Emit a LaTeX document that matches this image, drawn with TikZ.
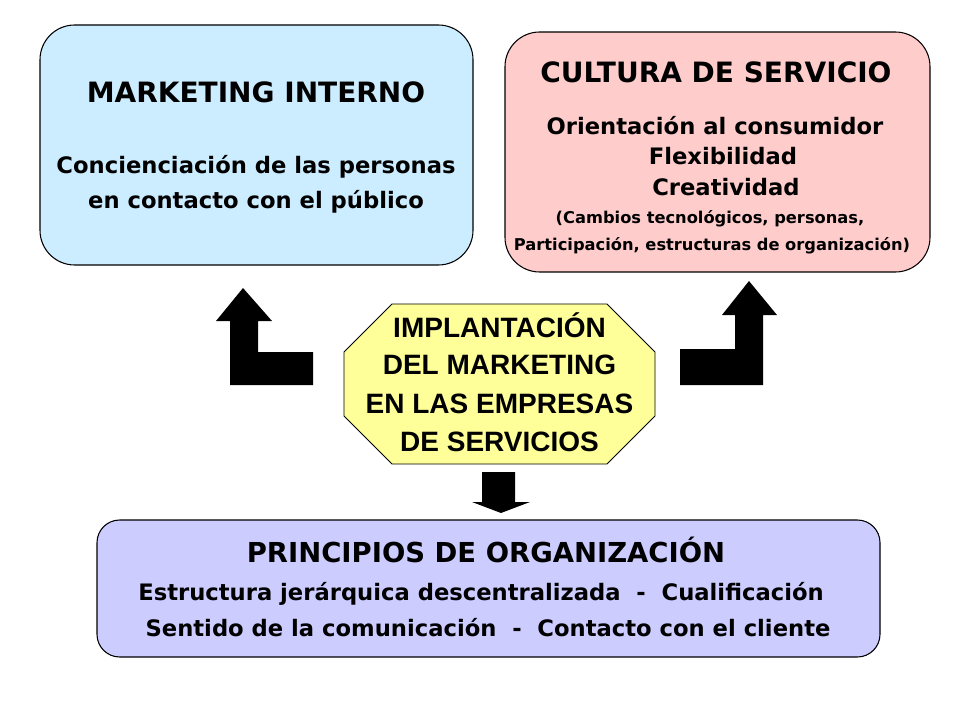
\documentclass[tikz,border=0pt]{standalone}
\usepackage{fontspec}
\setmainfont{DejaVu Sans}
\newfontfamily\octfamily{Liberation Sans}

\definecolor{internofill}{RGB}{204,236,255}
\definecolor{culturafill}{RGB}{255,204,204}
\definecolor{orgfill}{RGB}{204,204,255}
\definecolor{implfill}{RGB}{255,255,153}

\newcommand\boxtitle{\fontsize{21}{25}\selectfont\bfseries}
\newcommand\boxbody{\fontsize{17}{20}\selectfont\bfseries}
\newcommand\boxnote{\fontsize{12.2}{15}\selectfont\bfseries}
\newcommand\octtext{\octfamily\fontsize{21}{25}\selectfont\bfseries}
\newcommand\orgtitle{\fontsize{20.6}{24}\selectfont\bfseries}
\newcommand\orgbody{\fontsize{17}{20}\selectfont\bfseries}

\begin{document}
\begin{tikzpicture}[x=0.75pt,y=-0.75pt,
    box/.style={draw=black,line width=0.8pt,rounded corners=26pt,inner sep=0pt},
    txt/.style={anchor=base,inner sep=0pt}]
  \useasboundingbox (0,0) rectangle (960,720);

  % boxes
  \node[box,fill=internofill,minimum width=324.75pt,minimum height=180pt] (interno) at (256.5,145) {};
  \node[box,fill=culturafill,minimum width=318.75pt,minimum height=180pt] (cultura) at (717.5,152) {};
  \node[box,fill=orgfill,rounded corners=17pt,minimum width=587.25pt,minimum height=102.75pt] (org) at (488.5,588.5) {};
  % octagon
  \filldraw[draw=black,line width=0.6pt,fill=implfill]
    (392,304) -- (607,304) -- (655,352) -- (655,416) -- (607,464)
    -- (392,464) -- (344,416) -- (344,352) -- cycle;
  \coordinate (impl) at (499.5,384);

  % texts
  \node[txt,font=\boxtitle] (interno-t) at (256,103) {MARKETING INTERNO};
  \node[txt,font=\boxbody] (interno-1) at (256,174) {Concienciación de las personas};
  \node[txt,font=\boxbody] (interno-2) at (256,209) {en contacto con el público};

  \node[txt,font=\boxtitle] (cultura-t) at (716,83) {CULTURA DE SERVICIO};
  \node[txt,font=\boxbody] (cultura-1) at (715,135) {Orientación al consumidor};
  \node[txt,font=\boxbody] (cultura-2) at (723,165) {Flexibilidad};
  \node[txt,font=\boxbody] (cultura-3) at (726,196) {Creatividad};
  \node[txt,font=\boxnote] (cultura-4) at (710,224) {(Cambios  tecnológicos, personas,};
  \node[txt,font=\boxnote] (cultura-5) at (712,251) {Participación, estructuras  de organización)};

  \node[txt,font=\octtext] (impl-1) at (499.5,337) {IMPLANTACIÓN};
  \node[txt,font=\octtext] (impl-2) at (499.5,374) {DEL MARKETING};
  \node[txt,font=\octtext] (impl-3) at (499.5,413) {EN LAS EMPRESAS};
  \node[txt,font=\octtext] (impl-4) at (499.5,451) {DE SERVICIOS};

  \node[txt,font=\orgtitle] (org-t) at (486,562) {PRINCIPIOS DE ORGANIZACIÓN};
  \node[txt,font=\orgbody] (org-1) at (481,600) {Estructura jerárquica descentralizada \ - \ Cualificación};
  \node[txt,font=\orgbody] (org-2) at (488,636) {Sentido de la comunicación \ - \ Contacto con el cliente};

  % block arrows
  \fill (243,288) -- (272,321) -- (258,321) -- (258,352) -- (313,352) -- (313,385)
    -- (230,385) -- (230,321) -- (216,321) -- cycle;
  \fill (749,281) -- (777,315) -- (763,315) -- (763,385) -- (680,385) -- (680,349)
    -- (735,349) -- (735,315) -- (722,315) -- cycle;
  \fill (482,472) -- (515,472) -- (515,502) -- (530,502) -- (501,513) -- (472,502)
    -- (482,502) -- cycle;
\end{tikzpicture}
\end{document}
